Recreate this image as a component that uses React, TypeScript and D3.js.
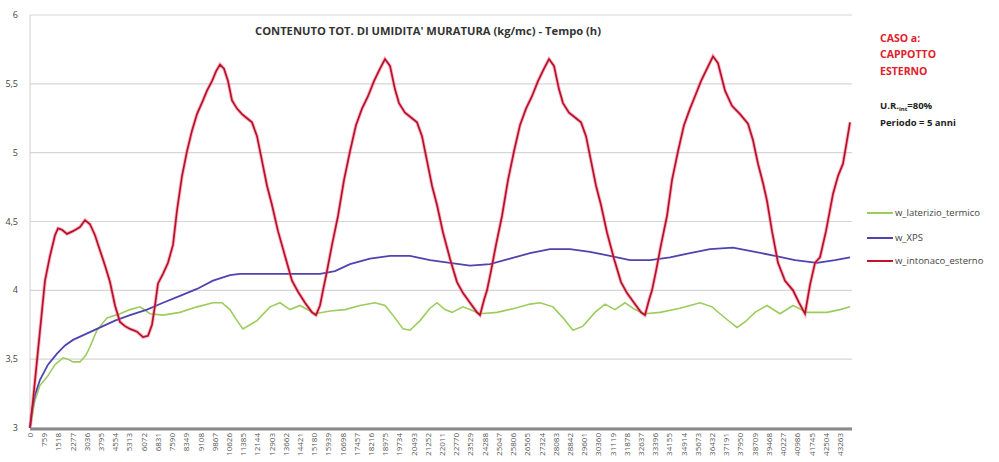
import React from "react";
import * as d3 from "d3";

const yTicks = [3, 3.5, 4, 4.5, 5, 5.5, 6];
const xTickStep = 759;
const xTickCount = 58;
const xMax = 43800;

const seriesNames = ["w_laterizio_termico", "w_XPS", "w_intonaco_esterno"];

const redHours = [0,160,374,588,801,1068,1335,1496,1709,1976,2297,2671,2938,3205,3472,3739,4006,4273,4540,4807,5074,5341,5715,6036,6303,6517,6677,6837,7104,7371,7638,7852,8119,8386,8653,8920,9241,9454,9722,9935,10149,10363,10576,10790,11057,11324,11591,11858,12125,12392,12659,12926,13247,13621,13995,14315,14689,15063,15277,15490,15651,15864,16131,16452,16772,17093,17413,17734,18054,18375,18695,18962,19229,19496,19710,20031,20404,20672,20939,21206,21473,21740,22060,22434,22808,23129,23503,23876,24037,24250,24411,24624,24891,25212,25532,25853,26173,26494,26814,27135,27455,27722,27989,28257,28470,28791,29165,29432,29699,29966,30233,30500,30820,31194,31568,31889,32263,32637,32850,33064,33224,33438,33705,34025,34292,34613,34933,35254,35521,35841,36162,36483,36750,37124,37497,37925,38352,38619,38886,39153,39367,39634,39954,40328,40756,41076,41397,41664,41931,42198,42518,42892,43159,43426,43640,43800];
const redValues = [3.00,3.20,3.49,3.78,4.07,4.25,4.40,4.45,4.44,4.41,4.43,4.46,4.51,4.48,4.40,4.29,4.18,4.06,3.89,3.77,3.74,3.72,3.70,3.66,3.67,3.75,3.89,4.05,4.12,4.20,4.33,4.58,4.83,5.01,5.16,5.28,5.38,5.45,5.52,5.59,5.64,5.61,5.52,5.38,5.32,5.28,5.25,5.22,5.12,4.94,4.76,4.62,4.43,4.25,4.07,3.99,3.91,3.84,3.82,3.89,4.00,4.14,4.33,4.54,4.80,5.01,5.20,5.32,5.41,5.52,5.61,5.68,5.63,5.46,5.36,5.29,5.25,5.22,5.12,4.94,4.76,4.62,4.42,4.23,4.06,3.98,3.91,3.84,3.82,3.93,4.00,4.14,4.33,4.54,4.80,5.01,5.20,5.32,5.41,5.52,5.61,5.68,5.63,5.46,5.36,5.29,5.25,5.22,5.12,4.94,4.76,4.62,4.42,4.23,4.06,3.98,3.91,3.84,3.82,3.93,4.00,4.14,4.33,4.54,4.80,5.01,5.20,5.32,5.41,5.52,5.61,5.70,5.65,5.45,5.34,5.28,5.21,5.09,4.92,4.78,4.65,4.43,4.20,4.07,4.00,3.91,3.83,4.04,4.20,4.24,4.43,4.70,4.83,4.92,5.09,5.22];

const blueHours = [0,107,267,534,961,1442,1870,2297,2938,3579,4540,5342,6250,7104,8012,8920,9775,10683,11217,12285,13354,14422,15490,16292,17093,18161,19229,20298,21366,22434,23503,24571,25639,26708,27776,28844,29912,30981,32049,33117,34186,35254,36322,37551,38726,39794,40863,42038,43000,43800];
const blueValues = [3.00,3.13,3.24,3.35,3.46,3.54,3.60,3.64,3.68,3.72,3.78,3.82,3.86,3.91,3.96,4.01,4.07,4.11,4.12,4.12,4.12,4.12,4.12,4.14,4.19,4.23,4.25,4.25,4.22,4.20,4.18,4.19,4.23,4.27,4.30,4.30,4.28,4.25,4.22,4.22,4.24,4.27,4.30,4.31,4.28,4.25,4.22,4.20,4.22,4.24];

const greenHours = [0,267,534,908,1335,1763,2030,2297,2671,2991,3205,3579,4113,4807,5342,5876,6410,7104,8012,8920,9775,10256,10683,11057,11377,11751,12125,12820,13354,13888,14422,15223,16025,16826,17627,18428,18962,19496,19924,20298,20832,21366,21740,22167,22541,23129,23503,24037,24945,25906,26708,27242,27936,28470,29004,29538,30179,30714,31248,31782,32316,32850,33651,34719,35788,36429,36856,37391,37764,38192,38726,39367,40061,40756,41503,42038,42572,43266,43800];
const greenValues = [3.00,3.20,3.31,3.37,3.46,3.51,3.50,3.48,3.48,3.53,3.59,3.71,3.80,3.83,3.86,3.88,3.83,3.82,3.84,3.88,3.91,3.91,3.86,3.78,3.72,3.75,3.78,3.88,3.91,3.86,3.89,3.83,3.85,3.86,3.89,3.91,3.89,3.80,3.72,3.71,3.78,3.87,3.91,3.86,3.84,3.88,3.86,3.83,3.84,3.87,3.90,3.91,3.88,3.80,3.71,3.74,3.84,3.90,3.86,3.91,3.86,3.83,3.84,3.87,3.91,3.88,3.83,3.77,3.73,3.77,3.84,3.89,3.83,3.89,3.84,3.84,3.84,3.86,3.88];

const W = 999;
const H = 462;
const m = { left: 30, right: 850, top: 15, bottom: 428 };

export default function App() {
  const x = d3.scaleLinear().domain([0, xMax]).range([m.left, m.right]);
  const y = d3.scaleLinear().domain([3, 6]).range([m.bottom, m.top]);
  const line = d3
    .line<[number, number]>()
    .x((d) => x(d[0]))
    .y((d) => y(d[1]));
  const mk = (hs: number[], vs: number[]) =>
    line(hs.map((h, i) => [h, vs[i]] as [number, number])) || "";
  const redPath = mk(redHours, redValues);
  const bluePath = mk(blueHours, blueValues);
  const greenPath = mk(greenHours, greenValues);
  const fmt = (v: number) => String(v).replace(".", ",");
  const xTicks = d3.range(xTickCount).map((i) => i * xTickStep);
  const font = "Open Sans, Liberation Sans, sans-serif";
  const legendColors = ["#9ccc5c", "#4e44b0", "#c0142e"];
  const legendY = [213, 238, 261];

  return (
    <svg
      width={W}
      height={H}
      style={{ position: "absolute", left: 0, top: 0, background: "#fff" }}
      fontFamily={font}
    >
      <rect x={0} y={0} width={W} height={H} fill="#fff" />
      {yTicks.map((t) => (
        <line
          key={"g" + t}
          x1={m.left}
          x2={852}
          y1={y(t)}
          y2={y(t)}
          stroke="#d6d6d6"
          strokeWidth={1.2}
        />
      ))}
      <line x1={m.left} x2={m.left} y1={m.top} y2={m.bottom} stroke="#d0d0d0" strokeWidth={1} />
      {yTicks.map((t) => (
        <text key={"yl" + t} x={18} y={y(t) + 3} fontSize={9} fill="#444" textAnchor="end">
          {fmt(t)}
        </text>
      ))}
      {xTicks.map((t) => (
        <text
          key={"xl" + t}
          transform={`translate(${x(t) + 3},${433}) rotate(-90)`}
          fontSize={8}
          fill="#555"
          textAnchor="end"
        >
          {t}
        </text>
      ))}
      <path d={greenPath} fill="none" stroke="#9ccc5c" strokeWidth={1.6} />
      <path d={bluePath} fill="none" stroke="#4e44b0" strokeWidth={1.8} />
      <path d={redPath} fill="none" stroke="#ff5a78" strokeOpacity={0.45} strokeWidth={3.6} />
      <path d={redPath} fill="none" stroke="#b3122c" strokeWidth={1.7} />
      <line x1={m.left} x2={852} y1={m.bottom + 1} y2={m.bottom + 1} stroke="#8a8a8a" strokeWidth={3} />
      <text
        x={428}
        y={35}
        fontSize={10}
        fontWeight="bold"
        fill="#333"
        textAnchor="middle"
        textLength={346}
        lengthAdjust="spacingAndGlyphs"
      >
        CONTENUTO TOT. DI UMIDITA' MURATURA (kg/mc) - Tempo (h)
      </text>
      <g fontSize={10.5} fill="#e0202a" fontWeight="bold">
        <text x={880} y={42}>CASO a:</text>
        <text x={880} y={58}>CAPPOTTO</text>
        <text x={880} y={75}>ESTERNO</text>
      </g>
      <g fontSize={9.5} fill="#222" fontWeight="bold">
        <text x={880} y={109}>
          U.R.<tspan fontSize={6} dy={2}>int</tspan>
          <tspan dy={-2}>=80%</tspan>
        </text>
        <text x={880} y={126}>Periodo = 5 anni</text>
      </g>
      {seriesNames.map((n, i) => (
        <g key={n}>
          <line
            x1={867}
            x2={893}
            y1={legendY[i]}
            y2={legendY[i]}
            stroke={legendColors[i]}
            strokeWidth={2}
          />
          <text x={895} y={legendY[i] + 3} fontSize={9.5} fill="#444">
            {n}
          </text>
        </g>
      ))}
    </svg>
  );
}
